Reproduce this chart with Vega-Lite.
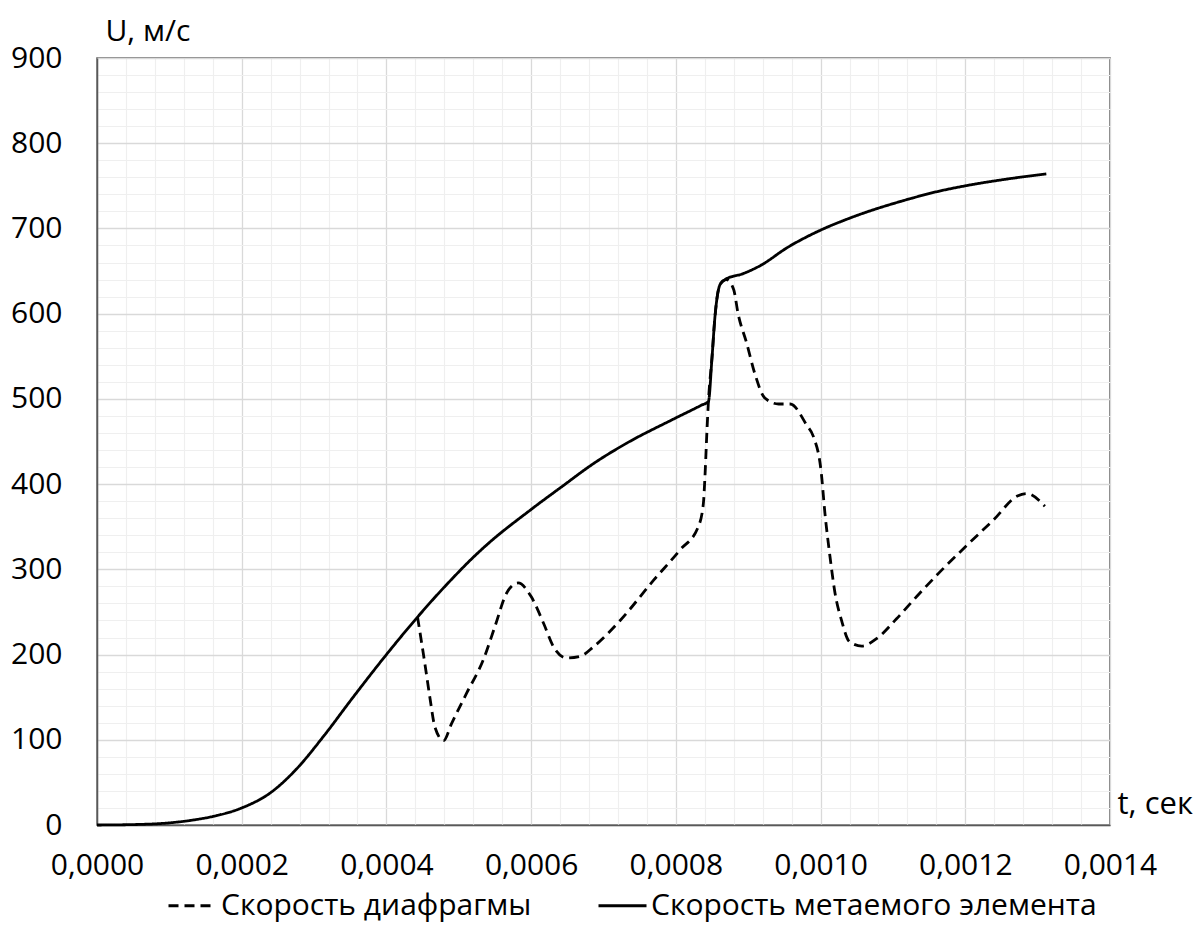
{
  "$schema": "https://vega.github.io/schema/vega-lite/v6.json",
  "autosize": {"type": "none"},
  "width": 1013,
  "height": 767,
  "padding": {"left": 97, "top": 58, "right": 92, "bottom": 101},
  "background": "white",
  "config": {
    "font": "Open Sans",
    "view": {"stroke": "#595959", "strokeWidth": 1.5},
    "axis": {"labelFont": "Open Sans", "titleFont": "Open Sans"}
  },
  "data": {
    "values": [
      {"t": 0, "U": 0, "s": "Скорость метаемого элемента"},
      {"t": 0.00005, "U": 0.5, "s": "Скорость метаемого элемента"},
      {"t": 0.0001, "U": 2.5, "s": "Скорость метаемого элемента"},
      {"t": 0.00013, "U": 5.5, "s": "Скорость метаемого элемента"},
      {"t": 0.00016, "U": 10, "s": "Скорость метаемого элемента"},
      {"t": 0.0002, "U": 20, "s": "Скорость метаемого элемента"},
      {"t": 0.00024, "U": 38, "s": "Скорость метаемого элемента"},
      {"t": 0.000276, "U": 66, "s": "Скорость метаемого элемента"},
      {"t": 0.000313, "U": 104, "s": "Скорость метаемого элемента"},
      {"t": 0.000354, "U": 150, "s": "Скорость метаемого элемента"},
      {"t": 0.0004, "U": 200, "s": "Скорость метаемого элемента"},
      {"t": 0.000443, "U": 244, "s": "Скорость метаемого элемента"},
      {"t": 0.00047, "U": 270, "s": "Скорость метаемого элемента"},
      {"t": 0.000492, "U": 290, "s": "Скорость метаемого элемента"},
      {"t": 0.000515, "U": 310, "s": "Скорость метаемого элемента"},
      {"t": 0.000539, "U": 329, "s": "Скорость метаемого элемента"},
      {"t": 0.000598, "U": 369, "s": "Скорость метаемого элемента"},
      {"t": 0.000644, "U": 398, "s": "Скорость метаемого элемента"},
      {"t": 0.000686, "U": 424, "s": "Скорость метаемого элемента"},
      {"t": 0.000732, "U": 448, "s": "Скорость метаемого элемента"},
      {"t": 0.000796, "U": 476, "s": "Скорость метаемого элемента"},
      {"t": 0.000835, "U": 492.5, "s": "Скорость метаемого элемента"},
      {"t": 0.000845, "U": 497, "s": "Скорость метаемого элемента"},
      {"t": 0.00085, "U": 549, "s": "Скорость метаемого элемента"},
      {"t": 0.000854, "U": 596, "s": "Скорость метаемого элемента"},
      {"t": 0.000861, "U": 634, "s": "Скорость метаемого элемента"},
      {"t": 0.000868, "U": 640, "s": "Скорость метаемого элемента"},
      {"t": 0.000893, "U": 647, "s": "Скорость метаемого элемента"},
      {"t": 0.000918, "U": 657, "s": "Скорость метаемого элемента"},
      {"t": 0.000953, "U": 677, "s": "Скорость метаемого элемента"},
      {"t": 0.001, "U": 698, "s": "Скорость метаемого элемента"},
      {"t": 0.00104, "U": 712, "s": "Скорость метаемого элемента"},
      {"t": 0.00112, "U": 734, "s": "Скорость метаемого элемента"},
      {"t": 0.00116, "U": 743, "s": "Скорость метаемого элемента"},
      {"t": 0.0012, "U": 750, "s": "Скорость метаемого элемента"},
      {"t": 0.00125, "U": 757, "s": "Скорость метаемого элемента"},
      {"t": 0.001312, "U": 764, "s": "Скорость метаемого элемента"},
      {"t": 0.000443, "U": 244, "s": "Скорость диафрагмы"},
      {"t": 0.000453, "U": 190, "s": "Скорость диафрагмы"},
      {"t": 0.00046, "U": 150, "s": "Скорость диафрагмы"},
      {"t": 0.000467, "U": 115, "s": "Скорость диафрагмы"},
      {"t": 0.000479, "U": 99, "s": "Скорость диафрагмы"},
      {"t": 0.00049, "U": 119, "s": "Скорость диафрагмы"},
      {"t": 0.000511, "U": 155, "s": "Скорость диафрагмы"},
      {"t": 0.000534, "U": 194, "s": "Скорость диафрагмы"},
      {"t": 0.00055, "U": 233, "s": "Скорость диафрагмы"},
      {"t": 0.000566, "U": 272, "s": "Скорость диафрагмы"},
      {"t": 0.000582, "U": 284, "s": "Скорость диафрагмы"},
      {"t": 0.0006, "U": 268, "s": "Скорость диафрагмы"},
      {"t": 0.000617, "U": 237, "s": "Скорость диафрагмы"},
      {"t": 0.000631, "U": 209, "s": "Скорость диафрагмы"},
      {"t": 0.000649, "U": 196, "s": "Скорость диафрагмы"},
      {"t": 0.000668, "U": 198, "s": "Скорость диафрагмы"},
      {"t": 0.000686, "U": 209, "s": "Скорость диафрагмы"},
      {"t": 0.000723, "U": 240, "s": "Скорость диафрагмы"},
      {"t": 0.000769, "U": 287, "s": "Скорость диафрагмы"},
      {"t": 0.000806, "U": 323, "s": "Скорость диафрагмы"},
      {"t": 0.000831, "U": 350, "s": "Скорость диафрагмы"},
      {"t": 0.000838, "U": 377, "s": "Скорость диафрагмы"},
      {"t": 0.00084, "U": 405, "s": "Скорость диафрагмы"},
      {"t": 0.000843, "U": 463, "s": "Скорость диафрагмы"},
      {"t": 0.000845, "U": 497, "s": "Скорость диафрагмы"},
      {"t": 0.00085, "U": 549, "s": "Скорость диафрагмы"},
      {"t": 0.000854, "U": 596, "s": "Скорость диафрагмы"},
      {"t": 0.000861, "U": 634, "s": "Скорость диафрагмы"},
      {"t": 0.00087, "U": 640, "s": "Скорость диафрагмы"},
      {"t": 0.00088, "U": 628, "s": "Скорость диафрагмы"},
      {"t": 0.000886, "U": 600, "s": "Скорость диафрагмы"},
      {"t": 0.000898, "U": 565, "s": "Скорость диафрагмы"},
      {"t": 0.000909, "U": 530, "s": "Скорость диафрагмы"},
      {"t": 0.000923, "U": 501, "s": "Скорость диафрагмы"},
      {"t": 0.000942, "U": 494, "s": "Скорость диафрагмы"},
      {"t": 0.000958, "U": 494, "s": "Скорость диафрагмы"},
      {"t": 0.000981, "U": 469, "s": "Скорость диафрагмы"},
      {"t": 0.00099, "U": 456, "s": "Скорость диафрагмы"},
      {"t": 0.001001, "U": 413, "s": "Скорость диафрагмы"},
      {"t": 0.001006, "U": 366, "s": "Скорость диафрагмы"},
      {"t": 0.001013, "U": 315, "s": "Скорость диафрагмы"},
      {"t": 0.00102, "U": 272, "s": "Скорость диафрагмы"},
      {"t": 0.001029, "U": 240, "s": "Скорость диафрагмы"},
      {"t": 0.00104, "U": 215, "s": "Скорость диафрагмы"},
      {"t": 0.001057, "U": 210, "s": "Скорость диафрагмы"},
      {"t": 0.001078, "U": 219, "s": "Скорость диафрагмы"},
      {"t": 0.001105, "U": 242, "s": "Скорость диафрагмы"},
      {"t": 0.001137, "U": 272, "s": "Скорость диафрагмы"},
      {"t": 0.001165, "U": 297, "s": "Скорость диафрагмы"},
      {"t": 0.001202, "U": 328, "s": "Скорость диафрагмы"},
      {"t": 0.001239, "U": 358, "s": "Скорость диафрагмы"},
      {"t": 0.001272, "U": 386, "s": "Скорость диафрагмы"},
      {"t": 0.001285, "U": 389, "s": "Скорость диафрагмы"},
      {"t": 0.00131, "U": 374, "s": "Скорость диафрагмы"}
    ]
  },
  "resolve": {"axis": {"x": "independent", "y": "independent"}},
  "layer": [
    {
      "mark": {"type": "line", "strokeOpacity": 0},
      "encoding": {
        "x": {
          "field": "t", "type": "quantitative",
          "scale": {"domain": [0, 0.0014], "nice": false, "zero": false},
          "axis": {
            "orient": "top", "grid": true, "gridColor": "#efefef", "gridWidth": 1.2,
            "labels": false, "ticks": false, "domain": false, "title": null,
            "values": [0.00004,0.00008,0.00012,0.00016,0.00024,0.00028,0.00032,0.00036,0.00044,0.00048,0.00052,0.00056,0.00064,0.00068,0.00072,0.00076,0.00084,0.00088,0.00092,0.00096,0.00104,0.00108,0.00112,0.00116,0.00124,0.00128,0.00132,0.00136]
          }
        },
        "y": {
          "field": "U", "type": "quantitative",
          "scale": {"domain": [0, 900], "nice": false},
          "axis": {
            "orient": "right", "grid": true, "gridColor": "#efefef", "gridWidth": 1.2,
            "labels": false, "ticks": false, "domain": false, "title": null,
            "values": [20,40,60,80,120,140,160,180,220,240,260,280,320,340,360,380,420,440,460,480,520,540,560,580,620,640,660,680,720,740,760,780,820,840,860,880]
          }
        },
        "detail": {"field": "s"}
      }
    },
    {
      "mark": {"type": "line", "color": "black", "strokeWidth": 2.8, "interpolate": "monotone"},
      "encoding": {
        "x": {
          "field": "t", "type": "quantitative",
          "scale": {"domain": [0, 0.0014], "nice": false, "zero": false},
          "axis": {
            "orient": "bottom", "grid": true, "gridColor": "#d9d9d9", "gridWidth": 1.3,
            "ticks": false, "domain": true, "domainColor": "#595959", "domainWidth": 1.5,
            "values": [0, 0.0002, 0.0004, 0.0006, 0.0008, 0.001, 0.0012, 0.0014],
            "labelExpr": "replace(format(datum.value, '.4f'), '.', ',')",
            "labelFontSize": 30, "labelColor": "black", "labelPadding": 25, "labelFlush": false,
            "title": "t, сек", "titleFontSize": 31, "titleFontWeight": "normal", "titleColor": "black",
            "titleAnchor": null, "titleAlign": "left", "titleBaseline": "alphabetic",
            "titleX": 1020, "titleY": -12
          }
        },
        "y": {
          "field": "U", "type": "quantitative",
          "scale": {"domain": [0, 900], "nice": false},
          "axis": {
            "orient": "left", "grid": true, "gridColor": "#d9d9d9", "gridWidth": 1.3,
            "ticks": false, "domain": true, "domainColor": "#595959", "domainWidth": 1.5,
            "values": [0, 100, 200, 300, 400, 500, 600, 700, 800, 900],
            "format": "d", "labelFontSize": 30, "labelColor": "black", "labelPadding": 35,
            "title": "U, м/с", "titleFontSize": 30, "titleFontWeight": "normal", "titleColor": "black",
            "titleAngle": 0, "titleAnchor": null, "titleAlign": "left", "titleBaseline": "alphabetic",
            "titleX": 8, "titleY": -18
          }
        },
        "strokeDash": {
          "field": "s", "type": "nominal",
          "scale": {"domain": ["Скорость диафрагмы", "Скорость метаемого элемента"], "range": [[10, 6], [1, 0]]},
          "legend": {
            "title": null, "orient": "none", "direction": "horizontal",
            "legendX": 70, "legendY": 822, "padding": 0,
            "symbolType": "stroke", "symbolSize": 2304, "symbolStrokeWidth": 2.8, "symbolStrokeColor": "black",
            "labelFontSize": 30, "labelColor": "black", "labelLimit": 0, "labelOffset": 3,
            "columnPadding": 60
          }
        }
      }
    }
  ]
}
